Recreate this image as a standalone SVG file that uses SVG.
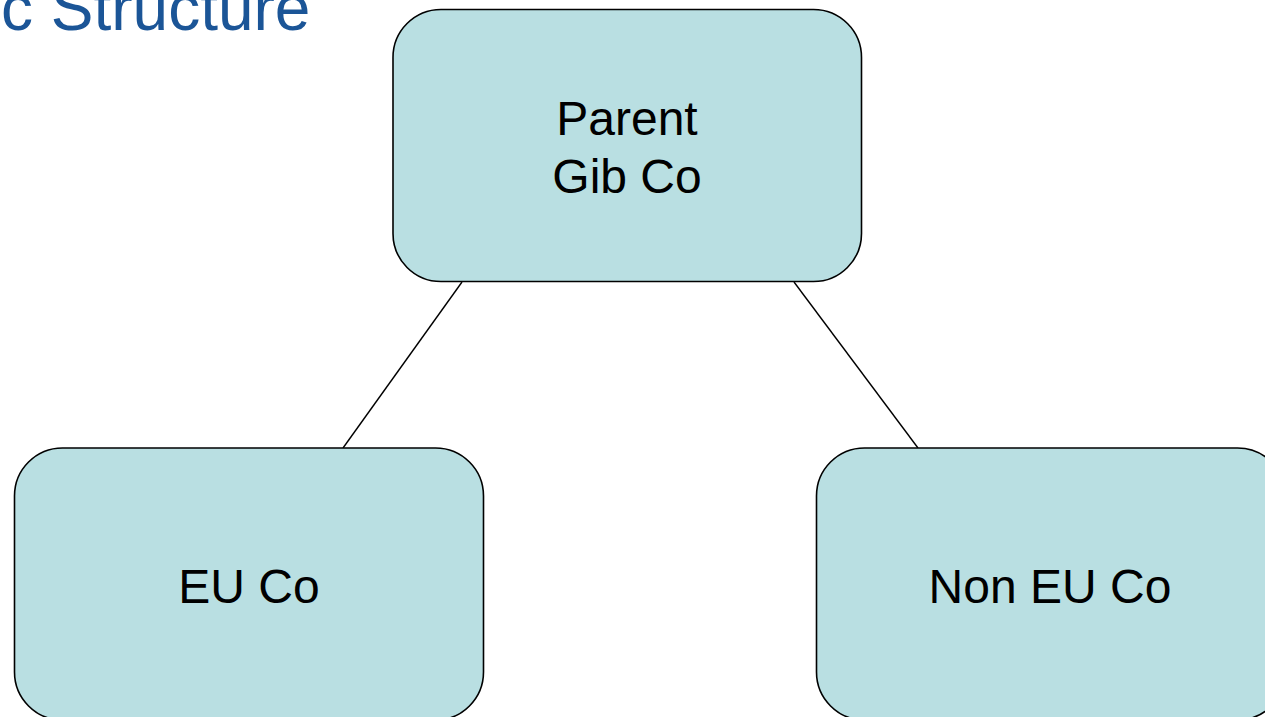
<svg xmlns="http://www.w3.org/2000/svg" width="1265" height="717" viewBox="0 0 1265 717">
<style>
.node{fill:#b9dfe2;stroke:#000;stroke-width:1.6}
.lbl{font-family:"Liberation Sans",Arial,sans-serif;font-size:48px;fill:#000;text-anchor:middle}
.title{font-family:"Liberation Sans",Arial,sans-serif;font-size:64px;fill:#1b5597}
.conn{stroke:#000;stroke-width:1.4;fill:none}
</style>
<rect width="1265" height="717" fill="#fff"/>
<text class="title" x="1" y="30">c Structure</text>
<g id="connectors">
<line class="conn" x1="462" y1="282" x2="343" y2="448"/>
<line class="conn" x1="794" y1="282" x2="918" y2="448"/>
</g>
<g id="parent">
<rect class="node" x="393" y="9.5" width="468.5" height="272" rx="48" ry="48"/>
<text class="lbl" x="627" y="135">Parent</text>
<text class="lbl" x="627" y="192.5">Gib Co</text>
</g>
<g id="euco">
<rect class="node" x="14.5" y="448" width="469" height="272" rx="48" ry="48"/>
<text class="lbl" x="249" y="603">EU Co</text>
</g>
<g id="noneuco">
<rect class="node" x="816.5" y="448" width="469" height="272" rx="48" ry="48"/>
<text class="lbl" x="1050" y="603">Non EU Co</text>
</g>
</svg>
